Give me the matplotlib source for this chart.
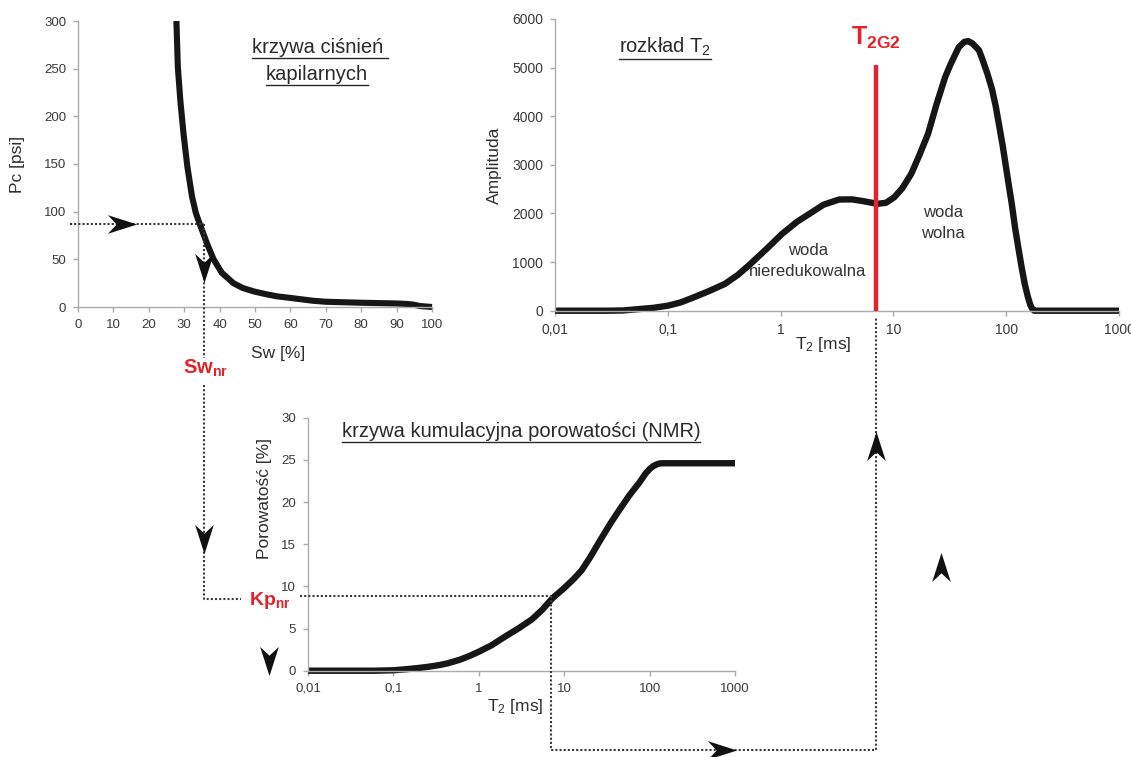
import numpy as np
import matplotlib
matplotlib.use("Agg")
import matplotlib.pyplot as plt
from matplotlib.path import Path
from matplotlib.ticker import FixedLocator, NullLocator, FixedFormatter

plt.rcParams['font.family'] = ['Liberation Sans', 'DejaVu Sans']
plt.rcParams['mathtext.fontset'] = 'custom'
plt.rcParams['mathtext.rm'] = 'Liberation Sans'
plt.rcParams['mathtext.it'] = 'Liberation Sans:italic'
plt.rcParams['mathtext.bf'] = 'Liberation Sans:bold'

# ---------------- data ----------------
# capillary pressure curve
sw = [27.8, 28.2, 28.9, 29.8, 30.9, 32.2, 33.3, 34.5, 36.4, 38.3, 40.6,
      43.9, 46.5, 49.6, 53.0, 56.2, 60.0, 66.5, 70.0, 79.7, 90.0, 93.0,
      94.7, 96.6, 100.0]
pc = [300, 252, 217, 182, 147, 116, 98.5, 86, 67, 50, 36,
      25, 20, 16.4, 13.5, 11.2, 9.5, 6.5, 5.5, 4.5, 3.7, 3.2,
      2.5, 1.0, 0]

# T2 distribution
t2_dist = [0.01, 0.02, 0.03, 0.04, 0.056, 0.075, 0.10, 0.13, 0.17, 0.23,
           0.32, 0.42, 0.54, 0.75, 1.03, 1.4, 1.8, 2.4, 3.3, 4.3,
           5.5, 7.2, 8.6, 10.2, 12.0, 14.4, 17.0, 20.3, 24.0, 28.8,
           32.0, 35.0, 38.0, 42.5, 46.0, 50.0, 57.4, 62.0, 68.0, 75.0,
           81.0, 93.0, 105, 112, 120, 128, 137, 146, 155, 163,
           170, 177, 200, 300, 500, 1000]
amp = [0, 0, 0, 5, 34, 60, 103, 170, 275, 400,
       550, 740, 962, 1270, 1580, 1830, 1992, 2180, 2287, 2290,
       2250, 2198, 2220, 2335, 2520, 2816, 3200, 3640, 4230, 4808,
       5060, 5250, 5420, 5529, 5545, 5500, 5357, 5150, 4880, 4550,
       4190, 3400, 2610, 2200, 1700, 1300, 893, 550, 300, 130,
       40, 0, 0, 0, 0, 0]

# cumulative porosity
t2_cum = [0.01, 0.03, 0.06, 0.1, 0.15, 0.2, 0.26, 0.35, 0.43, 0.6,
          0.8, 1.0, 1.4, 2.0, 3.0, 4.2, 5.5, 7.3, 10, 13,
          16, 20, 26.5, 35, 44.5, 58, 74.5, 82, 90, 101,
          110, 120, 130, 145, 1000]
por = [0, 0, 0, 0.05, 0.2, 0.33, 0.47, 0.68, 0.87, 1.3,
       1.8, 2.25, 3.0, 4.0, 5.1, 6.1, 7.2, 8.6, 9.8, 10.9,
       11.9, 13.4, 15.5, 17.5, 19.1, 20.8, 22.2, 22.8, 23.4, 23.95,
       24.25, 24.45, 24.57, 24.6, 24.6]

# key values
pc_level = 86.7
sw_nr = 35.7
kp_nr = 8.8
t2_cut = 7.0
t2_cut_top = 5050

log_ticks = [0.01, 0.1, 1, 10, 100, 1000]
log_labels = ['0,01', '0,1', '1', '10', '100', '1000']

# ---------------- figure ----------------
W, H = 1131, 757
fig = plt.figure(figsize=(W / 100, H / 100), dpi=100)

def px_axes(x0, x1, y_top, y_bot):
    return fig.add_axes([x0 / W, 1 - y_bot / H, (x1 - x0) / W, (y_bot - y_top) / H])

ax1 = px_axes(78, 432, 21, 307)
ax2 = px_axes(555, 1119, 19, 310.7)
ax3 = px_axes(308, 735, 417.7, 670.7)

CURVE = '#161616'
RED = '#e3232b'
SPINE = '#ababab'
TXT = '#3a3a3a'

for ax in (ax1, ax2, ax3):
    for s in ('top', 'right'):
        ax.spines[s].set_visible(False)
    for s in ('left', 'bottom'):
        ax.spines[s].set_color(SPINE)
        ax.spines[s].set_linewidth(1.0)
    ax.tick_params(direction='out', length=3.5, width=1.0, color=SPINE,
                   labelcolor=TXT, labelsize=9.5, pad=5)
    ax.patch.set_alpha(0)

LINE = dict(color=CURVE, solid_capstyle='butt', solid_joinstyle='round', clip_on=False)

# panel 1
ax1.plot(sw, pc, lw=4.4, **LINE)
ax1.set_xlim(0, 100)
ax1.set_ylim(0, 300)
ax1.set_xticks(np.arange(0, 101, 10))
ax1.set_yticks(np.arange(0, 301, 50))
ax1.set_xlabel('Sw [%]', fontsize=12.5, color='#2e2e2e')
ax1.set_ylabel('Pc [psi]', fontsize=12.5, color='#2e2e2e')
ax1.xaxis.set_label_coords(0.565, -0.135)
ax1.yaxis.set_label_coords(-0.15, 0.5)

# panel 2
ax2.plot(t2_dist, amp, lw=4.6, **LINE)
ax2.set_xscale('log')
ax2.set_xlim(0.01, 1000)
ax2.set_ylim(0, 6000)
ax2.set_yticks(np.arange(0, 6001, 1000))
ax2.vlines([t2_cut], 0, t2_cut_top, color=RED, lw=3.2, zorder=5)
ax2.set_xlabel(r'T$_2$ [ms]', fontsize=12.5, color='#2e2e2e')
ax2.set_ylabel('Amplituda', fontsize=12.5, color='#2e2e2e')
ax2.xaxis.set_label_coords(0.475, -0.085)
ax2.yaxis.set_label_coords(-0.094, 0.5)
ax2.tick_params(labelsize=10)

# panel 3
ax3.plot(t2_cum, por, lw=4.6, **LINE)
ax3.set_xscale('log')
ax3.set_xlim(0.01, 1000)
ax3.set_ylim(0, 30)
ax3.set_yticks(np.arange(0, 31, 5))
ax3.set_xlabel(r'T$_2$ [ms]', fontsize=12.5, color='#2e2e2e')
ax3.set_ylabel('Porowatość [%]', fontsize=12.5, color='#2e2e2e')
ax3.xaxis.set_label_coords(0.485, -0.105)
ax3.yaxis.set_label_coords(-0.084, 0.68)

for ax in (ax2, ax3):
    ax.xaxis.set_major_locator(FixedLocator(log_ticks))
    ax.xaxis.set_major_formatter(FixedFormatter(log_labels))
    ax.xaxis.set_minor_locator(NullLocator())

# ---------------- overlay ----------------
ov = fig.add_axes([0, 0, 1, 1], zorder=10)
ov.set_xlim(0, W)
ov.set_ylim(H, 0)
ov.axis('off')
ov.patch.set_alpha(0)

def to_px(ax, x, y):
    return ov.transData.inverted().transform(ax.transData.transform((x, y)))

DOT = dict(color='#3a3a3a', lw=1.5, linestyle=(0, (1, 1)), solid_capstyle='butt')

x_sw, y_pc = to_px(ax1, sw_nr, pc_level)
x_t2b, y_kp = to_px(ax3, t2_cut, kp_nr)
x_t2t, _ = to_px(ax2, t2_cut, 0)
x_ax3, _ = to_px(ax3, 0.01, 0)

ov.plot([70, x_sw], [y_pc, y_pc], **DOT)
ov.plot([x_sw, x_sw], [y_pc, 358], **DOT)
ov.plot([x_sw, x_sw, 241], [385, 599, 599], **DOT)
ov.plot([x_ax3 - 8, x_t2b], [y_kp, y_kp], **DOT)
ov.plot([x_t2b, x_t2b, x_t2t, x_t2t], [y_kp, 750, 750, 318], **DOT)

def chevron(angle_deg):
    base = np.array([(0, 1), (0.64, -1), (0, -0.4), (-0.64, -1), (0, 1)])
    a = np.deg2rad(angle_deg)
    R = np.array([[np.cos(a), -np.sin(a)], [np.sin(a), np.cos(a)]])
    v = base @ R.T
    return Path(v, [Path.MOVETO, Path.LINETO, Path.LINETO, Path.LINETO, Path.CLOSEPOLY])

# angle: 0 = up, -90 = right, 180 = down
arrows = [(122, y_pc, -90), (x_sw, 268, 180), (x_sw, 539, 180), (269, 661, 180),
          (722, 750, -90), (x_t2t, 446, 0), (941, 567, 0)]
for ax_, ay_, ang in arrows:
    ov.plot([ax_], [ay_], marker=chevron(ang), markersize=21, color='#111111',
            markeredgewidth=0, linestyle='none')

# red labels
ov.text(x_sw + 1, 374, r'$\mathbf{Sw_{nr}}$', color=RED, fontsize=14.5, ha='center', va='baseline')
ov.text(270, 605, r'$\mathbf{Kp_{nr}}$', color=RED, fontsize=14, ha='center', va='baseline')
ov.text(x_t2t, 45, r'$\mathbf{T_{2G2}}$', color=RED, fontsize=18, ha='center', va='baseline')

# region labels
ov.text(808, 255, 'woda', fontsize=12, color='#333333', ha='center', va='baseline')
ov.text(808, 276, 'nieredukowalna', fontsize=12, color='#333333', ha='center', va='baseline')
ov.text(943, 217, 'woda', fontsize=12, color='#333333', ha='center', va='baseline')
ov.text(943, 238, 'wolna', fontsize=12, color='#333333', ha='center', va='baseline')

# underlined titles
titles = [
    (320, 53, 'krzywa ciśnień '),
    (317, 80, 'kapilarnych'),
    (665, 53, r'rozkład T$_2$'),
    (521, 437, 'krzywa kumulacyjna porowatości (NMR)'),
]
tobjs = []
for tx, ty, s in titles:
    tobjs.append(ov.text(tx, ty, s, fontsize=14.5, color='#2a2a2a', ha='center', va='baseline'))

fig.canvas.draw()
r = fig.canvas.get_renderer()
inv = ov.transData.inverted()
for t in tobjs:
    bb = t.get_window_extent(renderer=r)
    (x0, yb), (x1, _) = inv.transform([(bb.x0, bb.y0), (bb.x1, bb.y1)])
    ov.plot([x0, x1], [yb + 0.5, yb + 0.5], color='#2a2a2a', lw=1.0)

fig.savefig('out.png', dpi=100)
